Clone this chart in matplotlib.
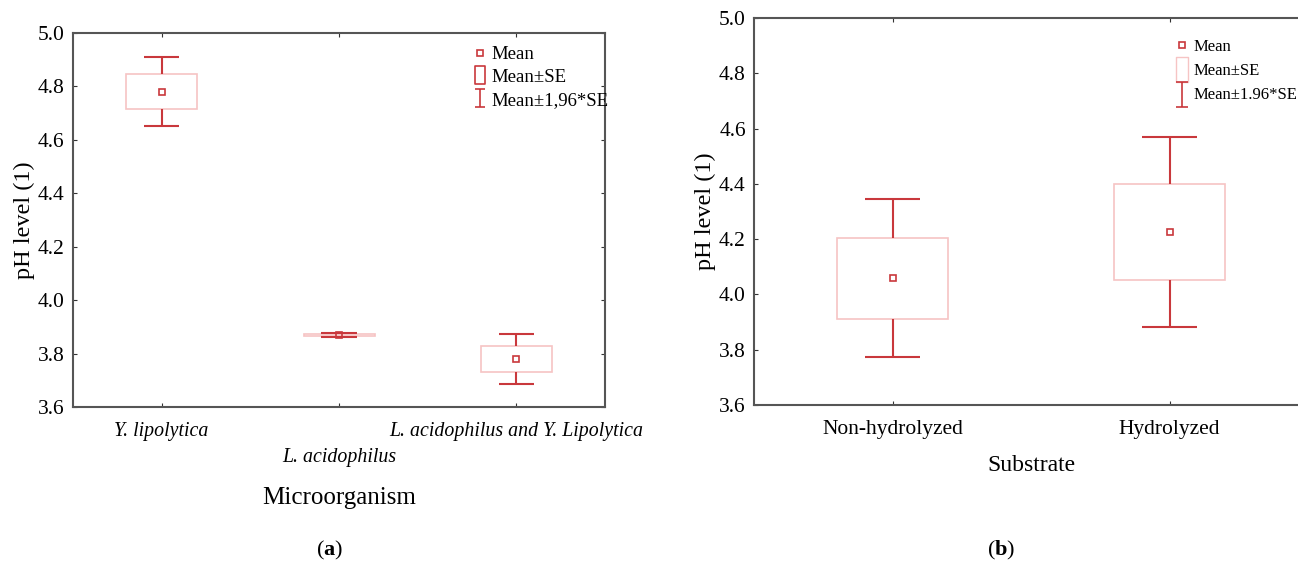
import matplotlib.pyplot as plt
from matplotlib.lines import Line2D
from matplotlib.path import Path

# panel (a): microorganism
micro = ['Y. lipolytica', 'L. acidophilus', 'L. acidophilus and Y. Lipolytica']
micro_mean = [4.78, 3.870, 3.780]
micro_se_lo = [4.715, 3.866, 3.732]
micro_se_hi = [4.845, 3.874, 3.830]
micro_ci_lo = [4.650, 3.862, 3.686]
micro_ci_hi = [4.910, 3.878, 3.875]

# panel (b): substrate
subst = ['Non-hydrolyzed', 'Hydrolyzed']
subst_mean = [4.060, 4.225]
subst_se_lo = [3.912, 4.052]
subst_se_hi = [4.205, 4.400]
subst_ci_lo = [3.773, 3.882]
subst_ci_hi = [4.345, 4.570]

red = '#c9383c'
pink = '#f6c4c4'
plt.rcParams['font.family'] = ['Liberation Serif', 'DejaVu Serif']
plt.rcParams['mathtext.fontset'] = 'custom'
plt.rcParams['mathtext.rm'] = 'Liberation Serif'
plt.rcParams['mathtext.bf'] = 'Liberation Serif:bold'

ibeam = Path([(-0.5, 1), (0.5, 1), (0, 1), (0, -1), (-0.5, -1), (0.5, -1)],
             [Path.MOVETO, Path.LINETO, Path.MOVETO, Path.LINETO, Path.MOVETO, Path.LINETO])
tallbox = Path([(-0.5, -1), (0.5, -1), (0.5, 1), (-0.5, 1), (-0.5, -1)],
               [Path.MOVETO, Path.LINETO, Path.LINETO, Path.LINETO, Path.CLOSEPOLY])


def draw_panel(ax, names, mean, se_lo, se_hi, ci_lo, ci_hi):
    xs = list(range(1, len(names) + 1))
    for x, m, sl, sh, cl, ch in zip(xs, mean, se_lo, se_hi, ci_lo, ci_hi):
        ax.bar(x, sh - sl, bottom=sl, width=0.4, fill=False, edgecolor=pink, linewidth=1.2)
        ax.vlines(x, sh, ch, color=red, linewidth=1.5)
        ax.vlines(x, cl, sl, color=red, linewidth=1.5)
        ax.hlines([cl, ch], x - 0.1, x + 0.1, color=red, linewidth=1.5)
        ax.plot(x, m, 's', mfc='none', mec=red, ms=4, mew=1.2)
    ax.set_xlim(0.5, len(names) + 0.5)
    ax.set_ylim(3.6, 5.0)
    ax.set_xticks(xs)
    ax.set_yticks([3.6, 3.8, 4.0, 4.2, 4.4, 4.6, 4.8, 5.0])
    ax.yaxis.set_major_formatter(plt.FormatStrFormatter('%.1f'))
    ax.tick_params(direction='in', length=3, top=True, right=True, labelsize=15.5,
                   color='#333333', pad=6)
    ax.tick_params(axis='x', pad=11)
    for s in ax.spines.values():
        s.set_color('#555555')
        s.set_linewidth(1.5)
    ax.set_ylabel('pH level (1)', fontsize=17.5, labelpad=2)
    return xs


fig = plt.figure(figsize=(12.98, 5.67), dpi=100)

ax1 = fig.add_axes([0.0562, 0.2822, 0.410, 0.6596])
draw_panel(ax1, micro, micro_mean, micro_se_lo, micro_se_hi, micro_ci_lo, micro_ci_hi)
ax1.set_xticklabels([micro[0], '\n' + micro[1], micro[2]], style='italic', fontsize=14.3,
                    linespacing=1.5)
ax1.set_xlabel('Microorganism', fontsize=18, labelpad=14)
h1 = [Line2D([], [], marker='s', ls='none', mfc='none', mec=red, ms=4, mew=1.2),
      Line2D([], [], marker=tallbox, ls='none', mfc='none', mec=red, ms=13, mew=1.2),
      Line2D([], [], marker=ibeam, ls='none', mfc='none', mec=red, ms=13, mew=1.2)]
ax1.legend(h1, ['Mean', 'Mean±SE', 'Mean±1,96*SE'], loc='upper left',
           bbox_to_anchor=(0.715, 1.01), frameon=False, fontsize=13.5,
           handlelength=1.0, handletextpad=0.1, labelspacing=0.3)

ax2 = fig.add_axes([0.581, 0.2857, 0.4268, 0.6826])
draw_panel(ax2, subst, subst_mean, subst_se_lo, subst_se_hi, subst_ci_lo, subst_ci_hi)
ax2.set_xticklabels(subst, fontsize=15.5)
ax2.set_xlabel('Substrate', fontsize=17, labelpad=11)
h2 = [Line2D([], [], marker='s', ls='none', mfc='none', mec=red, ms=4, mew=1.2),
      Line2D([], [], marker=tallbox, ls='none', mfc='none', mec=pink, ms=18, mew=1.0),
      Line2D([], [], marker=ibeam, ls='none', mfc='none', mec=red, ms=18, mew=1.2)]
ax2.legend(h2, ['Mean', 'Mean±SE', 'Mean±1.96*SE'], loc='upper left',
           bbox_to_anchor=(0.728, 0.985), frameon=False, fontsize=12,
           handlelength=1.2, handletextpad=0.05, labelspacing=0.5)

fig.text(330 / 1298, 1 - 550 / 567, r'($\mathbf{a}$)', ha='center', va='center', fontsize=16)
fig.text(1001 / 1298, 1 - 550 / 567, r'($\mathbf{b}$)', ha='center', va='center', fontsize=16)

fig.savefig('out.png', dpi=100)
